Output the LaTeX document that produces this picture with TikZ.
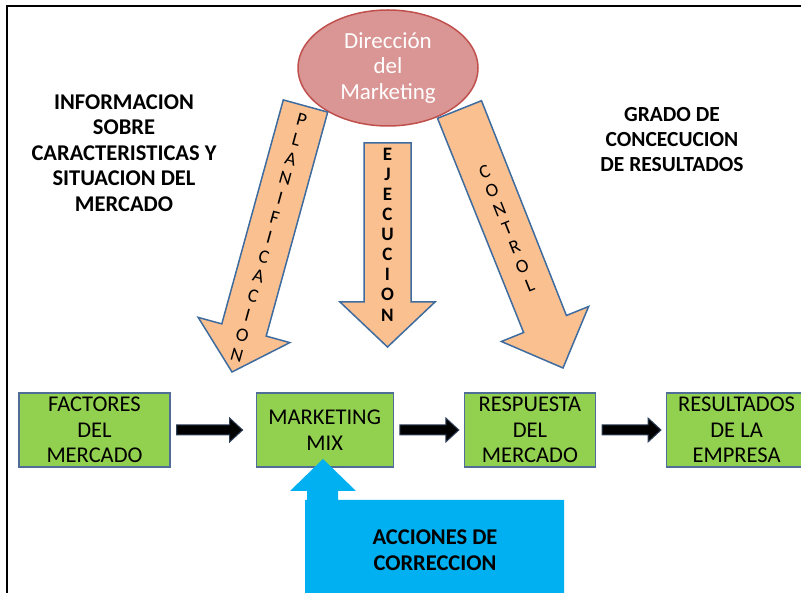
\documentclass[tikz,border=0pt]{standalone}
\usepackage{fontspec}
\setmainfont{Carlito}
\usetikzlibrary{shapes.geometric,calc,positioning}
\definecolor{dirfill}{HTML}{D99694}
\definecolor{dirline}{HTML}{C0504D}
\definecolor{arroworange}{HTML}{FAC090}
\definecolor{arrowline}{HTML}{3F6C9F}
\definecolor{boxgreen}{HTML}{92D050}
\definecolor{boxline}{HTML}{4F6D96}
\definecolor{accblue}{HTML}{00B0F0}

\begin{document}
\begin{tikzpicture}[x=1pt,y=-1pt,
  box/.style={draw=boxline, fill=boxgreen, line width=1.2pt, minimum height=74pt, inner sep=1pt, align=center, font=\fontsize{22.5}{25.5}\selectfont},
  bigarrow/.style={draw=arrowline, fill=arroworange, line width=1.5pt},
  blackarrow/.style={draw=boxline!60!black, fill=black, line width=1pt},
  letter/.style={inner sep=0pt, font=\fontsize{19}{19}\selectfont},
  letterb/.style={inner sep=0pt, font=\bfseries\fontsize{19}{19}\selectfont},
  label/.style={align=center, inner sep=0pt, font=\bfseries\fontsize{22.5}{25.5}\selectfont}]

\useasboundingbox (0,0) rectangle (801,593);
\draw[line width=2pt] (7,593) -- (7,6) -- (801,6);

% top
\node[ellipse, draw=dirline, fill=dirfill, line width=1.5pt, minimum width=180pt, minimum height=116pt, inner sep=0pt, align=center, text=white, font=\fontsize{23}{25.5}\selectfont] (dir) at (388,68) {Dirección\\del\\Marketing};

\node[label] (info) at (124,153) {INFORMACION\\SOBRE\\CARACTERISTICAS Y\\SITUACION DEL\\MERCADO};
\node[label, font=\bfseries\fontsize{21.5}{25}\selectfont] (grado) at (672,140) {GRADO DE\\CONCECUCION\\DE RESULTADOS};

% big arrows
\draw[bigarrow] (283.3,99.9) -- (221.8,323.9) -- (198.2,317.4) -- (232,372) -- (289.8,342.6) -- (266.2,336.1) -- (327.7,112.1) -- cycle;
\draw[bigarrow] (364,143) -- (364,302) -- (340,302) -- (387.5,347) -- (435,302) -- (411,302) -- (411,143) -- cycle;
\draw[bigarrow] (437.5,118.3) -- (523.6,332.5) -- (501.4,341.5) -- (563,368) -- (588.6,306.5) -- (566.4,315.5) -- (481.5,100.7) -- cycle;

\foreach \l [count=\i] in {P,L,A,N,I,F,I,C,A,C,I,O,N}
  \node[letter, rotate=-15.4] at ({305.5-0.266*(20.3*\i-5.8)},{106+0.964*(20.3*\i-5.8)}) {\l};
\foreach \l [count=\i] in {E,J,E,C,U,C,I,O,N}
  \node[letterb] at (387.5,{134+20.1*\i}) {\l};
\foreach \l [count=\i] in {C,O,N,T,R,O,L}
  \node[letter, rotate=21.8] at ({459.5+0.3717*(20.3*\i+47)},{109.5+0.9283*(20.3*\i+47)}) {\l};

% boxes
\node[box, minimum width=151pt] (fac) at (94.5,430) {FACTORES\\DEL\\MERCADO};
\node[box, minimum width=137pt, right=85pt of fac] (mix) {MARKETING\\MIX};
\node[box, minimum width=131pt, right=70pt of mix] (resp) {RESPUESTA\\DEL\\MERCADO};
\node[box, minimum width=140pt, right=70pt of resp] (res) {RESULTADOS\\DE LA\\EMPRESA};

\foreach \a/\b/\g in {fac/mix/13, mix/resp/5, resp/res/5}
  \draw[blackarrow] ($(\a.east)+(6,-5)$) -- ($(\b.west)+({-\g-13},-5)$) -- ($(\b.west)+({-\g-13},-12)$) -- ($(\b.west)+(-\g,0)$) -- ($(\b.west)+({-\g-13},12)$) -- ($(\b.west)+({-\g-13},5)$) -- ($(\a.east)+(6,5)$) -- cycle;

% correction
\fill[accblue] (305,600) -- (305,500) -- (307,500) -- (307,491) -- (290,491) -- (323,459) -- (356,491) -- (338,491) -- (338,500) -- (564,500) -- (564,600) -- cycle;
\node[label] (acc) at (435,550) {ACCIONES DE\\CORRECCION};
\end{tikzpicture}
\end{document}
